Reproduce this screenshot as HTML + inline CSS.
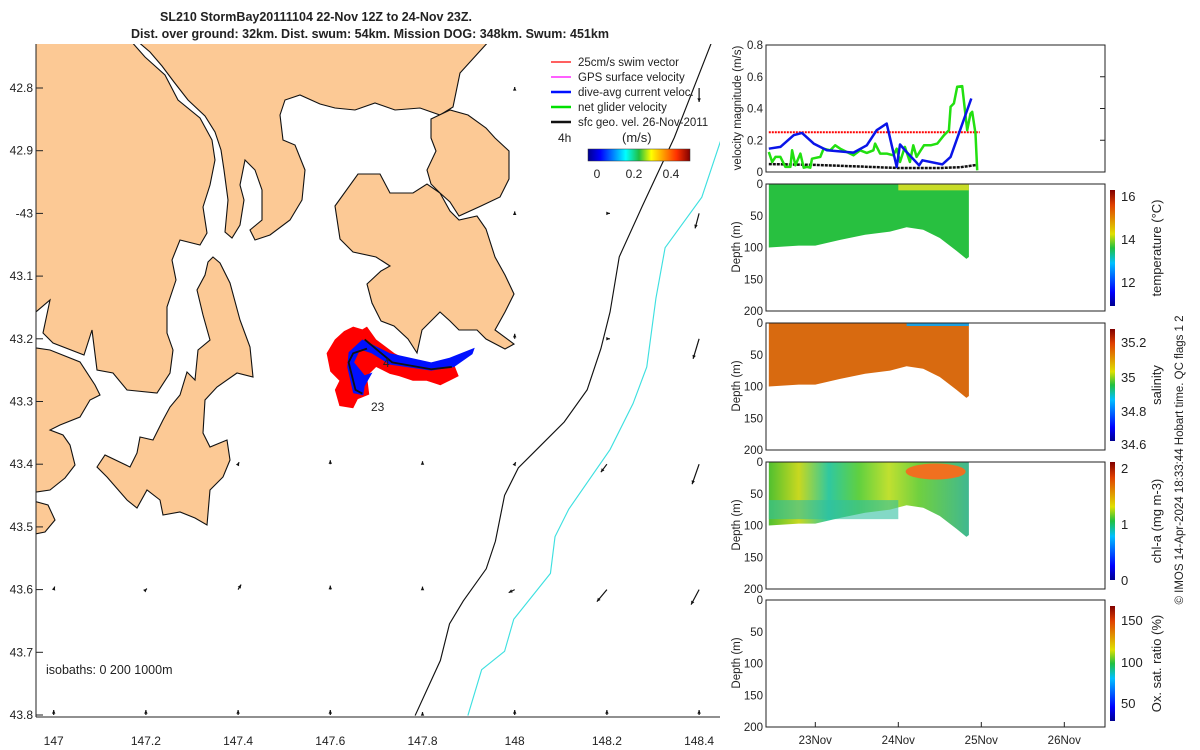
<!DOCTYPE html>
<html><head><meta charset="utf-8"><style>
body{margin:0;background:#fff;}
svg{display:block;font-family:"Liberation Sans",sans-serif;}
text{fill:#222;}
</style></head><body>
<svg id="c" width="1200" height="750" viewBox="0 0 1200 750">
<rect width="1200" height="750" fill="#fff"/>
<g font-weight="bold" font-size="12.5" text-anchor="middle">
<text x="316" y="21">SL210 StormBay20111104 22-Nov 12Z to 24-Nov 23Z.</text>
<text x="370" y="38">Dist. over ground: 32km. Dist. swum: 54km. Mission DOG: 348km. Swum: 451km</text>
</g>
<defs>
<clipPath id="mapclip"><rect x="36" y="44" width="684" height="673"/></clipPath>
<linearGradient id="jet" x1="0" x2="1" y1="0" y2="0">
<stop offset="0" stop-color="#00008f"/><stop offset="0.12" stop-color="#0000ff"/><stop offset="0.37" stop-color="#00ffff"/><stop offset="0.5" stop-color="#20c040"/><stop offset="0.62" stop-color="#ffff00"/><stop offset="0.87" stop-color="#ff3000"/><stop offset="1" stop-color="#800000"/></linearGradient>
<linearGradient id="jetv" x1="0" x2="0" y1="1" y2="0">
<stop offset="0" stop-color="#00008f"/><stop offset="0.12" stop-color="#0000ff"/><stop offset="0.37" stop-color="#00c0ff"/><stop offset="0.5" stop-color="#20c040"/><stop offset="0.62" stop-color="#e0e000"/><stop offset="0.87" stop-color="#e04000"/><stop offset="1" stop-color="#800000"/></linearGradient>
<linearGradient id="chlg" x1="0" x2="1" y1="0" y2="0">
<stop offset="0" stop-color="#50c030"/><stop offset="0.15" stop-color="#c8d820"/><stop offset="0.3" stop-color="#30c8a0"/><stop offset="0.45" stop-color="#60d040"/><stop offset="0.6" stop-color="#c0e030"/><stop offset="0.75" stop-color="#70d040"/><stop offset="1" stop-color="#40b890"/></linearGradient>
</defs>

<g id="map" clip-path="url(#mapclip)">
<g fill="#fcc995" stroke="#111" stroke-width="1.1">
<polygon points="30,40 130,40 145,57 165,75 178,100 200,118 212,140 215,160 210,185 203,207 207,233 200,245 180,240 172,260 176,280 167,307 167,333 173,350 170,373 157,393 127,390 113,373 97,370 92,330 84,355 53,343 43,333 50,300 30,317"/>
<polygon points="136,40 490,40 460,73 453,107 440,115 420,108 395,110 375,103 355,110 335,108 320,104 300,95 285,100 280,115 283,140 295,145 305,170 302,200 290,220 270,235 255,240 250,230 262,220 262,190 255,170 245,160 240,185 244,200 240,225 232,238 225,232 228,200 224,170 221,150 215,132 205,116 188,100 174,82 162,66 150,52"/>
<polygon points="30,347 50,350 80,362 95,385 100,395 90,400 80,417 60,425 50,430 63,435 70,445 75,465 65,478 50,490 30,493"/>
<polygon points="30,500 48,505 55,520 45,532 30,535"/>
<polygon points="213,257 220,263 230,283 240,320 250,347 253,377 237,373 217,387 205,400 203,433 210,447 227,440 230,460 223,477 210,490 207,525 195,518 180,512 163,515 160,500 147,490 137,508 127,500 107,477 97,467 105,455 130,467 137,453 140,437 153,440 163,420 170,407 180,395 187,372 195,380 198,350 210,340 203,315 197,290 205,275 208,262"/>
<polygon points="335,206 358,174 380,174 390,193 413,193 427,184 440,193 450,211 459,220 477,216 486,229 495,257 505,275 514,294 505,312 495,330 514,344 505,349 486,339 477,330 459,330 450,321 440,312 422,330 417,353 408,339 394,326 381,321 372,303 367,284 381,271 390,266 376,257 353,252 340,239"/>
<polygon points="431,119 450,110 468,115 486,128 495,138 509,151 509,179 500,197 481,206 459,216 450,202 440,193 431,184 427,170 436,151 431,138"/>
<g transform="scale(0.4587)" fill="none" stroke-width="2.5">
<polyline stroke="#111" points="1560,70 1470,300 1400,450 1350,560 1330,680 1310,760 1280,850 1230,920 1180,970 1130,1020 1100,1080 1080,1180 1060,1240 1010,1310 980,1360 960,1440 905,1560"/>
<polyline stroke="#3ee0e0" points="1580,280 1530,430 1450,540 1430,650 1410,800 1380,880 1330,980 1240,1110 1210,1170 1200,1250 1120,1350 1100,1420 1050,1460 1020,1560"/>
<polygon stroke="none" fill="#ff0000" points="730,740 750,722 770,712 790,718 800,712 820,740 860,770 900,790 960,800 990,795 1000,820 980,830 960,840 930,830 900,830 870,820 850,815 820,800 800,820 805,860 780,870 770,890 740,885 730,850 740,830 720,810 712,770"/>
<polygon stroke="none" fill="#0010ff" points="790,740 850,770 940,790 980,780 1035,758 1030,772 990,800 940,808 850,795 810,770 785,762 772,790 795,818 812,812 795,842 792,862 770,857 757,800 760,768"/>
<polyline fill="none" stroke="#111" stroke-width="4" points="795,740 855,790 940,805 985,800"/>
<polyline fill="none" stroke="#111" stroke-width="4" points="800,760 770,770 760,790 775,850 790,858"/>
</g>
</g>
<g id="vecs"></g>
<text x="383" y="367" font-size="12">4</text>
<text x="371" y="411" font-size="12">23</text>
</g>
<line x1="36" y1="44" x2="36" y2="717" stroke="#222"/>
<line x1="36" y1="717" x2="720" y2="717" stroke="#222"/>
<g id="mapticks" font-size="12"></g>
<text x="46" y="674" font-size="12.5">isobaths: 0   200  1000m</text>

<g font-size="11.5">
<g id="leg"></g>
<text x="558" y="142" font-size="12">4h</text>
<text x="622" y="142" font-size="13">(m/s)</text>
<rect x="588" y="149" width="102" height="12" fill="url(#jet)" stroke="#333" stroke-width="0.5"/>
<text x="597" y="178" font-size="12" text-anchor="middle">0</text>
<text x="634" y="178" font-size="12" text-anchor="middle">0.2</text>
<text x="671" y="178" font-size="12" text-anchor="middle">0.4</text>
</g>

<g id="right"></g>
<text transform="translate(1183,460) rotate(-90)" font-size="11.5" text-anchor="middle">© IMOS 14-Apr-2024 18:33:44 Hobart time. QC flags 1  2</text>
</svg>
<script>
const NS="http://www.w3.org/2000/svg";
function mk(tag,attrs,parent,txt){const e=document.createElementNS(NS,tag);for(const k in attrs)e.setAttribute(k,attrs[k]);if(txt!==undefined)e.textContent=txt;parent.appendChild(e);return e;}

const lonTicks=[147,147.2,147.4,147.6,147.8,148,148.2,148.4];
const latTicks=[42.8,42.9,43,43.1,43.2,43.3,43.4,43.5,43.6,43.7,43.8];
const latLabels=["42.8","42.9","-43","43.1","43.2","43.3","43.4","43.5","43.6","43.7","43.8"];
const vecLon=[148.0,148.4,148.2,148.0,148.4,148.0,148.2,148.4,147.4,147.6,147.8,148.0,148.2,148.4,147.0,147.2,147.4,147.6,147.8,148.0,148.2,148.4,147,147.2,147.4,147.6,147.8,148,148.2,148.4];
const vecLat=[42.8,42.8,43.0,43.0,43.0,43.2,43.2,43.2,43.4,43.4,43.4,43.4,43.4,43.4,43.6,43.6,43.6,43.6,43.6,43.6,43.6,43.6,43.8,43.8,43.8,43.8,43.8,43.8,43.8,43.8];
const vecU=[0,0,0.03,0,-0.04,0,0.03,-0.06,0.01,0,0,0.01,-0.06,-0.07,0.01,0.01,0.03,0,0,-0.06,-0.1,-0.08,0,0,0,0,0,0,0,0];
const vecV=[0.01,-0.14,0,0.02,-0.15,0.05,0,-0.2,0.02,0.04,0.03,0.02,-0.08,-0.2,0.03,0.01,0.05,0.04,0.03,-0.03,-0.12,-0.15,0.05,0.05,0.05,0.05,0.03,0.05,0.05,0.05];
const lonX=l=>53.7+(l-147)*461;
const latY=l=>88+(l-42.8)*627;

const mt=document.getElementById('mapticks');
lonTicks.forEach((l,i)=>{
 const t=mk('text',{x:lonX(l),y:745,'text-anchor':'middle'},mt,String(l));
 
 
});
latTicks.forEach((l,i)=>{
 const t=mk('text',{x:33,y:latY(l)+4,'text-anchor':'end'},mt,latLabels[i]);
 
 
 const k=mk('line',{x1:36,x2:43,y1:latY(l),y2:latY(l),stroke:'#222'},mt);
 
 
});
const vg=document.getElementById('vecs');
const S=100;
vecLon.forEach((lo,i)=>{
 const x0=lonX(lo),y0=latY(vecLat[i]);
 const x1=x0+vecU[i]*S,y1=y0-vecV[i]*S;
 const a=mk('line',{x1:x0,y1:y0,x2:x1,y2:y1,stroke:'#111','stroke-width':1.2},vg);
 
 
 const ang=Math.atan2(y1-y0,x1-x0),h=4;
 const p=mk('polygon',{points:`${x1},${y1} ${x1-h*Math.cos(ang-0.45)},${y1-h*Math.sin(ang-0.45)} ${x1-h*Math.cos(ang+0.45)},${y1-h*Math.sin(ang+0.45)}`,fill:'#111'},vg);
 
 
});

const legLabels=["25cm/s swim vector","GPS surface velocity","dive-avg current veloc.","net glider velocity","sfc geo. vel. 26-Nov-2011"];
const legColors=["#ff0000","#ff00ff","#0010ff","#00e000","#111"];
const lg=document.getElementById('leg');
legLabels.forEach((s,i)=>{
 const y=62+i*15;
 const l=mk('line',{x1:551,x2:571,y1:y,y2:y,stroke:legColors[i],'stroke-width':i>=2?2.5:1.2},lg);
 
 
 const t=mk('text',{x:578,y:y+4},lg,s);
 
 
});

const dayTicks=[23,24,25,26];
const dayLabels=["23Nov","24Nov","25Nov","26Nov"];
const velTicks=[0,0.2,0.4,0.6,0.8];
const blueT=[22.44,22.58,22.74,22.84,22.98,23.14,23.46,23.62,23.74,23.86,23.98,24.02,24.10,24.25,24.29,24.53,24.63,24.88];
const blueV=[0.147,0.158,0.232,0.246,0.179,0.137,0.122,0.168,0.263,0.305,0.032,0.173,0.126,0.042,0.074,0.048,0.095,0.463];
const greenT=[22.44,22.48,22.52,22.58,22.64,22.70,22.72,22.76,22.82,22.86,22.90,22.94,22.96,23.06,23.10,23.18,23.24,23.30,23.38,23.46,23.54,23.62,23.70,23.72,23.78,23.86,23.94,23.98,24.02,24.08,24.14,24.18,24.22,24.27,24.31,24.39,24.47,24.55,24.61,24.63,24.67,24.71,24.77,24.83,24.87,24.89,24.93,24.95];
const greenV=[0.126,0.063,0.095,0.095,0.032,0.032,0.137,0.042,0.116,0.027,0.032,0.027,0.084,0.095,0.147,0.137,0.168,0.147,0.126,0.105,0.137,0.120,0.137,0.179,0.116,0.116,0.105,0.147,0.063,0.158,0.063,0.168,0.095,0.137,0.168,0.168,0.179,0.232,0.263,0.411,0.432,0.537,0.541,0.263,0.368,0.379,0.242,0.011];
const blackT=[22.44,23.0,23.5,24.0,24.5,24.75,24.95];
const blackV=[0.05,0.045,0.035,0.025,0.025,0.03,0.045];
const swimT=[22.44,24.98];
const swimV=[0.25,0.25];
const bottomT=[22.44,22.8,23.0,23.3,23.6,23.9,24.1,24.3,24.5,24.7,24.82,24.85];
const bottomD=[100,97,97,88,80,75,68,72,85,105,118,115];
const depthTicks=[0,50,100,150,200];

const tx=t=>768+(t-22.43)*83;
const R=document.getElementById('right');
const vy=v=>172-v/0.8*127;

function axesBox(y0,h,name){
 const r=mk('rect',{x:766,y:y0,width:339,height:h,fill:'none',stroke:'#222'},R);
 
 
}
axesBox(45,127,'velocity-axes');
velTicks.forEach(v=>{
 const t=mk('text',{x:763,y:vy(v)+4,'text-anchor':'end','font-size':11.5},R,String(v));
 
 
 const k=mk('line',{x1:1100,x2:1105,y1:vy(v),y2:vy(v),stroke:'#222'},R);
 
 
});
const vt=mk('text',{transform:'translate(741,108) rotate(-90)','text-anchor':'middle','font-size':11.5},R,'velocity magnitude (m/s)');


function series(T,V,col,w,name,dash){
 const pts=T.map((t,i)=>tx(t).toFixed(1)+','+vy(V[i]).toFixed(1)).join(' ');
 const a={points:pts,fill:'none',stroke:col,'stroke-width':w,'stroke-linejoin':'round'};
 if(dash)a['stroke-dasharray']=dash;
 const p=mk('polyline',a,R);
 
 
}
series(swimT,swimV,'#ff0000',2,'swim-speed-line','2,1');
series(blackT,blackV,'#111',2.5,'geo-velocity-line','3,1');
series(greenT,greenV,'#22e010',2.5,'net-glider-velocity-line');
series(blueT,blueV,'#0a14e8',2.5,'dive-avg-current-line');

const panels=[
 {y:184,name:'temperature',fill:'#28c040',title:'temperature (°C)',cb:[190,306],ticks:[16,14,12],tickY:[196,239,282]},
 {y:323,name:'salinity',fill:'#d86a10',title:'salinity',cb:[329,441],ticks:[35.2,35,34.8,34.6],tickY:[342,377,411,444]},
 {y:462,name:'chlorophyll',fill:'url(#chlg)',title:'chl-a (mg m-3)',cb:[462,580],ticks:[2,1,0],tickY:[468,524,580]},
 {y:600,name:'oxygen',fill:null,title:'Ox. sat. ratio (%)',cb:[606,721],ticks:[150,100,50],tickY:[620,662,703]}
];
panels.forEach((P,pi)=>{
 const dy=d=>P.y+d/200*127;
 if(P.fill){
  let pts=tx(bottomT[0])+','+dy(0)+' '+tx(bottomT[bottomT.length-1])+','+dy(0)+' ';
  for(let i=bottomT.length-1;i>=0;i--)pts+=tx(bottomT[i]).toFixed(1)+','+dy(bottomD[i]).toFixed(1)+' ';
  const a=mk('polygon',{points:pts,fill:P.fill},R);
  
  
 }
 if(pi===0){
  const s=mk('rect',{x:tx(24.0),y:dy(0),width:tx(24.85)-tx(24.0),height:127*10/200,fill:'#c8dc28'},R);
  
  
 }
 if(pi===1){
  const s=mk('rect',{x:tx(24.1),y:dy(0),width:tx(24.85)-tx(24.1),height:3,fill:'#1ea0e0'},R);
  
  
 }
 if(pi===2){
  const s2=mk('rect',{x:tx(22.44),y:dy(60),width:tx(24.0)-tx(22.44),height:127*30/200,fill:'#30c0a0',opacity:0.6},R);
  
  
  const s=mk('ellipse',{cx:tx(24.45),cy:dy(15),rx:30,ry:8,fill:'#f07020'},R);
  
  
 }
 axesBox(P.y,127,P.name+'-axes');
 depthTicks.forEach(d=>{
  const t=mk('text',{x:763,y:dy(d)+4,'text-anchor':'end','font-size':11.5},R,String(d));
  
  
 });
 const yt=mk('text',{transform:`translate(740,${P.y+63}) rotate(-90)`,'text-anchor':'middle','font-size':11.5},R,'Depth (m)');
 
 
 const cb=mk('rect',{x:1110,y:P.cb[0],width:5,height:P.cb[1]-P.cb[0],fill:'url(#jetv)'},R);
 
 
 P.ticks.forEach((v,i)=>{
  const t=mk('text',{x:1121,y:P.tickY[i]+5,'font-size':13},R,String(v));
  
  
 });
 const ct=mk('text',{transform:`translate(1161,${(P.cb[0]+P.cb[1])/2}) rotate(-90)`,'text-anchor':'middle','font-size':13},R,P.title);
 
 
});
dayTicks.forEach((d,i)=>{
 const t=mk('text',{x:tx(d),y:744,'text-anchor':'middle','font-size':11.5},R,dayLabels[i]);
 
 
 const k=mk('line',{x1:tx(d),x2:tx(d),y1:727,y2:722,stroke:'#222'},R);
 
 
});
</script>
</body></html>
